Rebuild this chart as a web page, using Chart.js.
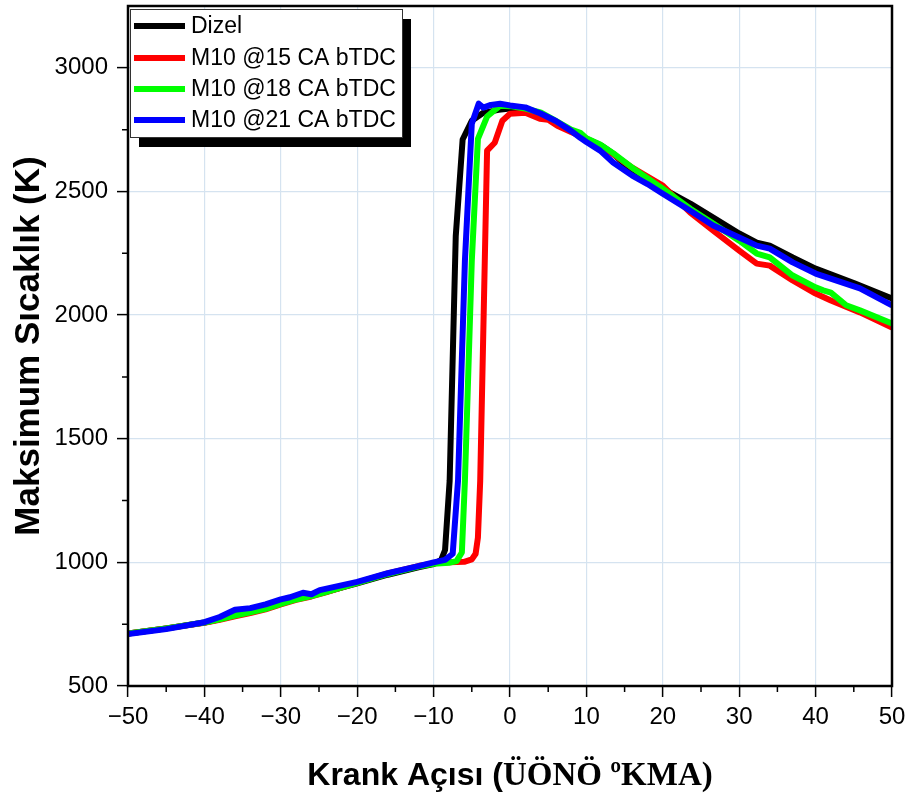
<!DOCTYPE html>
<html>
<head>
<meta charset="utf-8">
<script src="https://cdn.jsdelivr.net/npm/chart.js@4.4.1/dist/chart.umd.min.js"></script>
<style>
html,body{margin:0;padding:0;background:#fff;}
#wrap{width:911px;height:798px;position:relative;}
</style>
</head>
<body>
<div id="wrap"><canvas id="c" width="911" height="798"></canvas></div>
<script>
// ---- data ----
const seriesNames = ["Dizel", "M10 @15 CA bTDC", "M10 @18 CA bTDC", "M10 @21 CA bTDC"];
const xTickValues = [-50,-40,-30,-20,-10,0,10,20,30,40,50];
const yTickValues = [500,1000,1500,2000,2500,3000];

const angleDizel = [-50,-45,-40,-38,-36,-34,-32,-30,-28,-26,-24,-20,-16,-12,-10,-9,-8.5,-7.9,-7.1,-6.2,-5,-3.5,-1.5,0,2,4,6,8,10,12,13.5,16,18,20,23.6,26.6,30,32.3,34,37,40,45,50];
const tempDizel  = [712,733,757,770,788,800,815,835,852,866,882,915,950,980,993,1010,1050,1330,2320,2710,2786,2818,2830,2835,2830,2810,2780,2745,2713,2685,2653,2580,2545,2511,2451,2394,2330,2293,2281,2233,2188,2130,2067];

const angleM15 = [-50,-45,-40,-38,-36,-34,-32,-30,-28,-26,-24,-20,-16,-12,-10,-8,-6,-5,-4.5,-4.2,-3.9,-3.3,-3,-2,-1,0,2,3.9,5,6.2,8,10,12,14,16,18,20,23.6,26.6,30,32.3,34,37,40,42,45.8,50];
const tempM15  = [712,733,756,768,782,795,810,830,848,862,880,918,955,985,996,1000,1002,1012,1035,1100,1330,2220,2665,2697,2786,2814,2818,2794,2790,2766,2740,2713,2680,2640,2596,2560,2524,2414,2342,2261,2208,2200,2140,2087,2059,2011,1950];

const angleM18 = [-50,-45,-40,-38,-36,-34,-32,-30,-28,-26,-24,-20,-16,-12,-10,-8,-7,-6.3,-5.9,-5,-4.2,-3,-1.3,0,2,4,6,8,9.2,10,11.8,13.5,16,20,23.6,26.6,30,32.3,34,37,40,41,42,44,45.8,50];
const tempM18  = [712,733,757,770,785,798,812,832,850,864,881,917,953,983,994,998,1005,1040,1332,2220,2713,2803,2847,2845,2835,2820,2785,2750,2737,2715,2690,2655,2596,2511,2430,2370,2301,2249,2233,2160,2112,2100,2091,2040,2019,1966];

const angleM21 = [-50,-45,-40,-38,-36,-34,-32,-30,-28.8,-27.1,-26,-24.9,-20,-16,-12,-10,-8.5,-7.5,-6.8,-5.9,-5,-4.1,-3.5,-2.5,-1.3,0,2,4,6,8,9.2,10,11.8,13.5,16,18,20,23.6,26.6,30,32.3,34,37,40,45.8,50];
const tempM21  = [710,730,758,779,808,815,830,850,859,877,871,888,921,956,985,1000,1010,1035,1332,2220,2774,2855,2839,2850,2855,2848,2840,2815,2785,2745,2717,2700,2665,2617,2564,2530,2491,2422,2362,2314,2281,2269,2213,2168,2108,2039];

const seriesColors = ["#000000", "#ff0000", "#00ff00", "#0000ff"];

function pts(a, t){ return a.map((x,i)=>({x:x, y:t[i]})); }

const SANS = "'Liberation Sans', Arial, Helvetica, sans-serif";

// frame + minor ticks
const framePlugin = {
  id: 'frame',
  afterDraw(chart){
    const {ctx, chartArea:a, scales:{x, y}} = chart;
    ctx.save();
    ctx.strokeStyle = '#000';
    ctx.lineWidth = 1.5;
    ctx.beginPath();
    for (let v = -45; v <= 45; v += 10){
      const px = x.getPixelForValue(v);
      ctx.moveTo(px, a.bottom); ctx.lineTo(px, a.bottom + 6);
    }
    for (let v = 750; v <= 2750; v += 500){
      const py = y.getPixelForValue(v);
      ctx.moveTo(a.left, py); ctx.lineTo(a.left - 6, py);
    }
    ctx.stroke();
    ctx.lineWidth = 2.5;
    ctx.strokeRect(a.left, a.top, a.right - a.left, a.bottom - a.top);
    ctx.restore();
  }
};

// legend box with shadow
const legendPlugin = {
  id: 'boxLegend',
  afterDraw(chart){
    const ctx = chart.ctx;
    const L = 130, T = 9, R = 402, B = 137;
    ctx.save();
    ctx.fillStyle = '#000';
    ctx.fillRect(L + 9, T + 10, R - L, B - T);
    ctx.fillStyle = '#fff';
    ctx.fillRect(L, T, R - L, B - T);
    ctx.strokeStyle = '#333';
    ctx.lineWidth = 1;
    ctx.strokeRect(L + 0.5, T + 0.5, R - L, B - T);
    const rows = [26, 58, 89, 120];
    ctx.font = "23px " + SANS;
    ctx.textBaseline = 'middle';
    ctx.textAlign = 'left';
    seriesNames.forEach((n, i) => {
      ctx.strokeStyle = seriesColors[i];
      ctx.lineWidth = 6;
      ctx.beginPath();
      ctx.moveTo(134, rows[i]); ctx.lineTo(185, rows[i]);
      ctx.stroke();
      ctx.fillStyle = '#000';
      ctx.fillText(n, 191, rows[i] + 1);
    });
    ctx.restore();
  }
};

// x axis title with mixed fonts
const xTitlePlugin = {
  id: 'xTitle',
  afterDraw(chart){
    const ctx = chart.ctx;
    const p1 = "Krank Açısı (";
    const p2 = "ÜÖNÖ ºKMA)";
    ctx.save();
    ctx.fillStyle = '#000';
    ctx.textBaseline = 'alphabetic';
    ctx.textAlign = 'left';
    const f1 = "bold 32px 'Liberation Sans Narrow', 'Liberation Sans', Arial, sans-serif";
    const f2 = "bold 33px 'Liberation Serif', 'Times New Roman', serif";
    ctx.font = f1; const w1 = ctx.measureText(p1).width;
    ctx.font = f2; const w2 = ctx.measureText(p2).width;
    const cx = (chart.chartArea.left + chart.chartArea.right) / 2;
    let xs = cx - (w1 + w2) / 2;
    const base = 785;
    ctx.font = f1; ctx.fillText(p1, xs, base);
    ctx.font = f2; ctx.fillText(p2, xs + w1, base);
    ctx.restore();
  }
};

const ds = [
  {label: seriesNames[0], data: pts(angleDizel, tempDizel), borderColor: seriesColors[0], order: 3},
  {label: seriesNames[1], data: pts(angleM15, tempM15), borderColor: seriesColors[1], order: 2},
  {label: seriesNames[2], data: pts(angleM18, tempM18), borderColor: seriesColors[2], order: 1},
  {label: seriesNames[3], data: pts(angleM21, tempM21), borderColor: seriesColors[3], order: 0}
].map(d => Object.assign(d, {borderWidth: 6, pointRadius: 0, tension: 0, fill: false, borderJoinStyle: 'round', borderCapStyle: 'butt'}));

new Chart(document.getElementById('c'), {
  type: 'line',
  data: { datasets: ds },
  options: {
    responsive: false,
    animation: false,
    devicePixelRatio: 1,
    layout: { padding: { top: 6, right: 19, left: 0, bottom: 0 } },
    plugins: { legend: { display: false }, tooltip: { enabled: false } },
    scales: {
      x: {
        type: 'linear', min: -50, max: 50,
        afterBuildTicks: s => { s.ticks = xTickValues.map(v => ({value: v})); },
        afterFit: s => { s.height = 112; s.paddingLeft = 0; s.paddingRight = 0; },
        ticks: {
          color: '#000', font: { family: SANS, size: 24 }, padding: 6, maxRotation: 0,
          callback: v => (v < 0 ? '\u2212' + Math.abs(v) : String(v))
        },
        grid: { color: '#d5e3f0', lineWidth: 1.2, tickColor: '#000', tickLength: 11, tickWidth: 1.5 },
        border: { display: false }
      },
      y: {
        type: 'linear', min: 500, max: 3250,
        afterBuildTicks: s => { s.ticks = yTickValues.map(v => ({value: v})); },
        afterFit: s => { s.width = 128; s.paddingTop = 0; s.paddingBottom = 0; },
        ticks: { color: '#000', font: { family: SANS, size: 24 }, padding: 9, callback: v => String(v) },
        grid: { color: '#d5e3f0', lineWidth: 1.2, tickColor: '#000', tickLength: 11, tickWidth: 1.5 },
        border: { display: false },
        title: { display: true, text: 'Maksimum Sıcaklık (K)', color: '#000', font: { family: SANS, size: 35, weight: 'bold' }, padding: { top: 8, bottom: 0 } }
      }
    }
  },
  plugins: [framePlugin, legendPlugin, xTitlePlugin]
});
</script>
</body>
</html>
